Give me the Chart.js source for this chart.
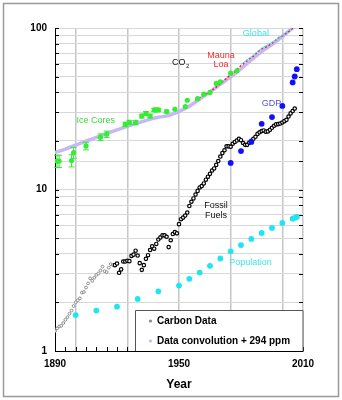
<!DOCTYPE html>
<html>
<head>
<meta charset="utf-8">
<script src="https://cdn.jsdelivr.net/npm/chart.js@4.4.1/dist/chart.umd.min.js"></script>
<style>
  body { margin: 0; background: #fff; }
  #wrap { width: 342px; height: 400px; }
</style>
</head>
<body>
<div id="wrap"><canvas id="carbonChart"></canvas></div>
<script>
// Fossil fuel carbon (early part, small gray circles), one value per year from 1889
const earlyStart = 1889;
const earlyCarbon = [
  1.29, 1.33, 1.38, 1.42, 1.43, 1.49, 1.56, 1.62, 1.70, 1.78,
  1.90, 2.00, 2.06, 2.12, 2.30, 2.32, 2.47, 2.62, 2.82, 2.72,
  2.84, 2.96, 3.02, 3.15, 3.33, 3.12, 3.08, 3.28, 3.45, 3.40,
];

// Fossil fuel carbon (black circles), one value per year from 1919
const fossilStart = 1919;
const fossilValues = [
  3.40,
  3.48, 3.05, 3.20, 3.58, 3.58, 3.62, 3.60, 3.88, 3.95, 4.18,
  3.90, 3.50, 3.18, 3.40, 3.72, 3.92, 4.22, 4.45, 4.30, 4.60,
  4.90, 5.05, 5.20, 5.20, 5.10, 4.40, 4.85, 5.30, 5.45, 5.35,
  6.10, 6.55, 6.70, 6.90, 7.20, 7.90, 8.40, 8.80, 9.30, 9.80,
  10.3, 10.5, 10.9, 11.5, 12.0, 12.5, 13.1, 13.5, 14.2, 15.0,
  16.0, 16.8, 17.5, 18.5, 18.5, 18.4, 19.2, 19.7, 20.1, 20.6,
  20.2, 19.4, 18.9, 18.9, 19.5, 20.0, 20.6, 21.2, 22.1, 22.6,
  23.0, 23.2, 22.8, 22.9, 23.4, 24.1, 24.8, 25.3, 25.4, 25.6,
  26.0, 26.5, 27.0, 28.3, 29.6, 30.6, 31.7,
];

// Data convolution + 294 ppm
const convYears = [1889, 1895, 1900, 1905, 1910, 1915, 1920, 1925, 1930, 1935, 1940, 1945, 1950, 1955, 1960, 1965, 1970, 1975, 1980, 1985, 1990, 1995, 2000, 2005, 2007];
const convValues = [16.8, 17.8, 18.8, 19.9, 21.0, 22.2, 23.4, 24.6, 25.8, 27.0, 28.0, 28.7, 30.4, 32.8, 36.3, 40.2, 44.8, 49.8, 56.0, 63.5, 71.5, 79.0, 88.5, 100, 103];

// Mauna Loa
const maunaYears = [1958, 1960, 1962, 1964, 1966, 1968, 1970, 1972, 1974, 1976, 1978, 1980, 1982, 1984, 1986, 1988, 1990, 1992, 1994, 1996, 1998, 2000, 2002, 2004, 2006];
const maunaValues = [35.5, 37.0, 38.5, 39.5, 41.2, 43.0, 45.6, 47.5, 50.2, 52.2, 55.5, 58.6, 61.2, 64.5, 67.0, 71.2, 74.4, 76.3, 78.8, 82.5, 86.8, 89.4, 93.0, 97.5, 101.5];

// Global
const globalYears = [1980, 1985, 1990, 1995, 2000, 2005];
const globalValues = [59.5, 66.5, 75.0, 81.5, 90.0, 101];

// Ice cores with error bars
const iceYears = [1891, 1892, 1898, 1899, 1905, 1912, 1915, 1924, 1926, 1929, 1932, 1934, 1936, 1938, 1939, 1940, 1944, 1948, 1953, 1954, 1959, 1962, 1965, 1968, 1970, 1975, 1978];
const iceValues = [15.0, 15.0, 15.1, 16.9, 18.6, 21.1, 22.0, 25.3, 26.0, 26.0, 28.5, 29.6, 28.5, 31.1, 31.1, 31.1, 30.4, 31.4, 32.6, 35.7, 36.5, 38.9, 39.9, 45.4, 46.4, 52.5, 54.3];
const iceErr = [1.3, 1.3, 1.3, 1.3, 1.0, 1.0, 1.0, 0.8, 0.8, 0.8, 0.8, 0.8, 0.8, 0.7, 0.7, 0.7, 0.6, 0, 0, 0, 0, 0, 0, 0, 0, 0, 0];

// GDP
const gdpYears = [1975, 1980, 1985, 1990, 1995, 2000, 2005, 2006, 2007];
const gdpValues = [14.6, 17.3, 19.7, 25.5, 28.1, 32.9, 46.0, 50.1, 55.6];

// Population
const popYears = [1900, 1910, 1920, 1930, 1940, 1950, 1955, 1960, 1965, 1970, 1975, 1980, 1985, 1990, 1995, 2000, 2005, 2006, 2007];
const popValues = [1.67, 1.78, 1.88, 2.10, 2.34, 2.54, 2.80, 3.06, 3.37, 3.74, 4.14, 4.53, 4.94, 5.38, 5.78, 6.21, 6.60, 6.68, 6.76];

// Axis labels
const xLabels = [1890, 1950, 2010];
const xGridYears = [1900, 1925, 1950, 1975, 2000, 2010];
const yLabels = [1, 10, 100];

const FONT = "'Liberation Sans', Arial, sans-serif";
const iceColor = "#33ee33";
const convColor = "#c9b6f4";

function pairs(xs, ys) {
  return xs.map((x, i) => ({ x: x, y: ys[i] }));
}
function yearly(start, ys) {
  return ys.map((v, i) => ({ x: start + i, y: v }));
}

// Text labels placed at data positions
const notes = [
  { text: "Global", x: 1987.2, y: 92, color: "#3fe3e3" },
  { text: "Mauna", x: 1970.3, y: 68, color: "#ff2a2a" },
  { text: "Loa", x: 1970.3, y: 59, color: "#ff2a2a" },
  { text: "Ice Cores", x: 1909.7, y: 26.6, color: "#3ad83a" },
  { text: "GDP", x: 1994.7, y: 34.2, color: "#5050f0" },
  { text: "Fossil", x: 1967.9, y: 7.96, color: "#111" },
  { text: "Fuels", x: 1967.9, y: 6.9, color: "#111" },
  { text: "Population", x: 1984.6, y: 3.52, color: "#3fe3e3" },
];

const framePlugin = {
  id: "frame",
  beforeDraw(chart) {
    const ctx = chart.ctx;
    ctx.save();
    ctx.fillStyle = "#fff";
    ctx.fillRect(0, 0, chart.width, chart.height);
    ctx.strokeStyle = "#9a9a9a";
    ctx.lineWidth = 1.5;
    ctx.strokeRect(3.5, 3.5, chart.width - 7, chart.height - 7);
    ctx.restore();
  },
  beforeDatasetsDraw(chart) {
    // small inward tick marks
    const { ctx, chartArea: a, scales: { x, y } } = chart;
    ctx.save();
    ctx.strokeStyle = "#000";
    ctx.lineWidth = 1;
    ctx.beginPath();
    y.ticks.forEach((t) => {
      const py = Math.round(y.getPixelForValue(t.value)) + 0.5;
      ctx.moveTo(a.left, py);
      ctx.lineTo(a.left + 4, py);
      ctx.moveTo(a.right - 4, py);
      ctx.lineTo(a.right, py);
    });
    x.ticks.forEach((t) => {
      const px = Math.round(x.getPixelForValue(t.value)) + 0.5;
      ctx.moveTo(px, a.bottom);
      ctx.lineTo(px, a.bottom - 4);
    });
    ctx.stroke();
    ctx.restore();
  },
  afterDatasetsDraw(chart) {
    const { ctx, scales: { x, y } } = chart;
    ctx.save();
    // error bars on ice core points
    ctx.strokeStyle = iceColor;
    ctx.lineWidth = 1;
    ctx.beginPath();
    iceYears.forEach((yr, i) => {
      const e = iceErr[i];
      if (!e) return;
      const px = x.getPixelForValue(yr);
      const top = y.getPixelForValue(iceValues[i] + e);
      const bot = y.getPixelForValue(iceValues[i] - e);
      ctx.moveTo(px, top);
      ctx.lineTo(px, bot);
      ctx.moveTo(px - 3, top);
      ctx.lineTo(px + 3, top);
      ctx.moveTo(px - 3, bot);
      ctx.lineTo(px + 3, bot);
    });
    ctx.stroke();

    // annotations
    ctx.font = "9px " + FONT;
    ctx.textAlign = "center";
    ctx.textBaseline = "middle";
    notes.forEach((n) => {
      ctx.fillStyle = n.color;
      ctx.fillText(n.text, x.getPixelForValue(n.x), y.getPixelForValue(n.y));
    });
    // CO2 with subscript
    const cx = x.getPixelForValue(1946.6);
    const cy = y.getPixelForValue(60.8);
    ctx.textAlign = "left";
    ctx.fillStyle = "#111";
    ctx.fillText("CO", cx, cy);
    const w = ctx.measureText("CO").width;
    ctx.font = "6px " + FONT;
    ctx.fillText("2", cx + w + 0.5, cy + 3);
    ctx.restore();
  },
  afterDraw(chart) {
    // legend box in lower right of the plot
    const { ctx, chartArea: a } = chart;
    const left = 135.5, top = 310.5;
    ctx.save();
    ctx.fillStyle = "#fff";
    ctx.fillRect(left, top, a.right - left, a.bottom - top);
    ctx.strokeStyle = "#555";
    ctx.lineWidth = 1;
    ctx.beginPath();
    ctx.moveTo(left, a.bottom);
    ctx.lineTo(left, top);
    ctx.lineTo(a.right, top);
    ctx.lineTo(a.right, a.bottom);
    ctx.stroke();
    const items = chart.data.datasets.filter((d) => d.legendText);
    ctx.font = "bold 10px " + FONT;
    ctx.textBaseline = "middle";
    ctx.textAlign = "left";
    items.forEach((d, i) => {
      const yy = 321 + i * 20;
      ctx.beginPath();
      ctx.arc(150.5, yy, 1.6, 0, Math.PI * 2);
      ctx.fillStyle = d.legendMarker;
      ctx.fill();
      ctx.fillStyle = "#000";
      ctx.fillText(d.legendText, 157, yy);
    });
    ctx.restore();
  },
};

const ctx = document.getElementById("carbonChart").getContext("2d");
new Chart(ctx, {
  type: "scatter",
  data: {
    datasets: [
      {
        label: "Population",
        data: pairs(popYears, popValues),
        pointRadius: 2.9,
        pointBackgroundColor: "#1ee6f0",
        pointBorderWidth: 0,
        order: 1,
      },
      {
        label: "GDP",
        data: pairs(gdpYears, gdpValues),
        pointRadius: 2.9,
        pointBackgroundColor: "#1010ff",
        pointBorderWidth: 0,
        order: 2,
      },
      {
        label: "Fossil Fuels",
        data: yearly(fossilStart, fossilValues),
        pointRadius: 1.7,
        pointBackgroundColor: "#fff",
        pointBorderColor: "#000",
        pointBorderWidth: 1.2,
        order: 3,
      },
      {
        label: "Carbon Data",
        legendText: "Carbon Data",
        legendMarker: "#888",
        data: yearly(earlyStart, earlyCarbon),
        pointRadius: 1.4,
        pointBackgroundColor: "#fff",
        pointBorderColor: "#777",
        pointBorderWidth: 0.8,
        order: 4,
      },
      {
        label: "Ice Cores",
        data: pairs(iceYears, iceValues),
        pointRadius: 2.6,
        pointBackgroundColor: iceColor,
        pointBorderWidth: 0,
        order: 5,
      },
      {
        label: "Global",
        data: pairs(globalYears, globalValues),
        showLine: true,
        borderColor: "#33e6ee",
        borderWidth: 1,
        pointRadius: 0,
        order: 6,
      },
      {
        label: "Mauna Loa",
        data: pairs(maunaYears, maunaValues),
        showLine: true,
        borderColor: "#ff1a1a",
        borderWidth: 1.5,
        borderDash: [2, 2],
        pointRadius: 0,
        order: 7,
      },
      {
        label: "Data convolution + 294 ppm",
        legendText: "Data convolution + 294 ppm",
        legendMarker: convColor,
        data: pairs(convYears, convValues),
        showLine: true,
        borderColor: convColor,
        borderWidth: 3.5,
        tension: 0.3,
        pointRadius: 0,
        order: 8,
      },
    ],
  },
  options: {
    responsive: true,
    maintainAspectRatio: false,
    animation: false,
    layout: { padding: { top: 28, right: 39, bottom: 0, left: 0 } },
    plugins: {
      legend: { display: false },
      tooltip: { enabled: false },
    },
    scales: {
      x: {
        type: "linear",
        min: 1890,
        max: 2010,
        afterFit: (s) => { s.height = 49; },
        ticks: {
          stepSize: 5,
          autoSkip: false,
          maxRotation: 0,
          padding: 7,
          color: "#000",
          font: { family: FONT, size: 10, weight: "bold" },
          callback: (v) => (xLabels.includes(v) ? String(v) : ""),
        },
        grid: {
          color: (c) => (c.tick && xGridYears.includes(c.tick.value) ? "#c6c6c6" : "rgba(0,0,0,0)"),
          lineWidth: 1.5,
          drawTicks: false,
        },
        border: { color: "#000", width: 1 },
        title: {
          display: true,
          text: "Year",
          color: "#000",
          font: { family: FONT, size: 12, weight: "bold" },
          padding: { top: 0, bottom: 8 },
        },
      },
      y: {
        type: "logarithmic",
        min: 1,
        max: 100,
        afterFit: (s) => { s.width = 55; },
        ticks: {
          autoSkip: false,
          padding: 8,
          color: "#000",
          font: { family: FONT, size: 10, weight: "bold" },
          callback: (v) => (yLabels.includes(v) ? String(v) : ""),
        },
        grid: { color: "#d8d8d8", lineWidth: 1, drawTicks: false },
        border: { color: "#000", width: 1 },
      },
    },
  },
  plugins: [framePlugin],
});
</script>
</body>
</html>
